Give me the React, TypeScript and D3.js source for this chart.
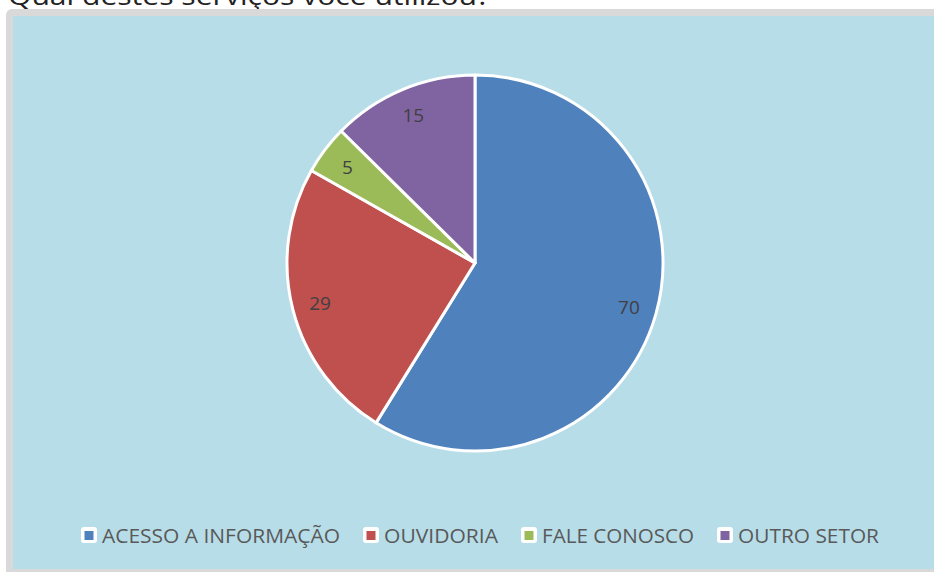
import React from "react";
import * as d3 from "d3";

const title = "Qual destes serviços você utilizou?";
const categories = ["ACESSO A INFORMAÇÃO", "OUVIDORIA", "FALE CONOSCO", "OUTRO SETOR"];
const values = [70, 29, 5, 15];
const colors = ["#4f81bd", "#c0504d", "#9bbb59", "#8064a2"];

const W = 934;
const H = 572;
const cx = 475;
const cy = 263;
const R = 188;
const legendTextWidths = [238, 114, 152, 141];

export default function App() {
  const pie = d3.pie<number>().sort(null).value((d) => d)(values);
  const arc = d3.arc<d3.PieArcDatum<number>>().innerRadius(0).outerRadius(R);
  const labelArc = d3.arc<d3.PieArcDatum<number>>().innerRadius(160).outerRadius(160);

  let x = 81;
  const legendItems = categories.map((c, i) => {
    const item = { x, label: c, color: colors[i], w: legendTextWidths[i] };
    x += 21 + legendTextWidths[i] + 23;
    return item;
  });

  return (
    <svg
      width={W}
      height={H}
      style={{ position: "absolute", left: 0, top: 0, display: "block" }}
      fontFamily="'Open Sans', 'Noto Sans', sans-serif"
    >
      <rect x={0} y={0} width={W} height={H} fill="#ffffff" />
      <text x={8} y={5} fontSize={26} fill="#222" textLength={482} lengthAdjust="spacingAndGlyphs">
        {title}
      </text>
      <rect x={6} y={9} width={W + 20} height={H + 20} rx={6} fill="#d9d9d9" />
      <rect x={13} y={16} width={W + 20} height={553} fill="#b7dde8" />
      <g transform={`translate(${cx},${cy})`}>
        {pie.map((p, i) => (
          <path key={i} d={arc(p) || ""} fill={colors[i]} stroke="#ffffff" strokeWidth={3} strokeLinejoin="round" />
        ))}
        {pie.map((p, i) => {
          const [lx, ly] = labelArc.centroid(p);
          return (
            <text key={"l" + i} x={lx} y={ly} fontSize={19} fill="#404040" textAnchor="middle" dominantBaseline="central">
              {values[i]}
            </text>
          );
        })}
      </g>
      <g>
        {legendItems.map((it, i) => (
          <g key={i}>
            <rect x={it.x} y={527} width={16} height={16} rx={3} fill="#ffffff" />
            <rect x={it.x + 3.5} y={531} width={9} height={9} fill={it.color} />
            <text
              x={it.x + 21}
              y={543}
              fontSize={20.5}
              fill="#595959"
              textLength={it.w}
              lengthAdjust="spacingAndGlyphs"
            >
              {it.label}
            </text>
          </g>
        ))}
      </g>
    </svg>
  );
}
